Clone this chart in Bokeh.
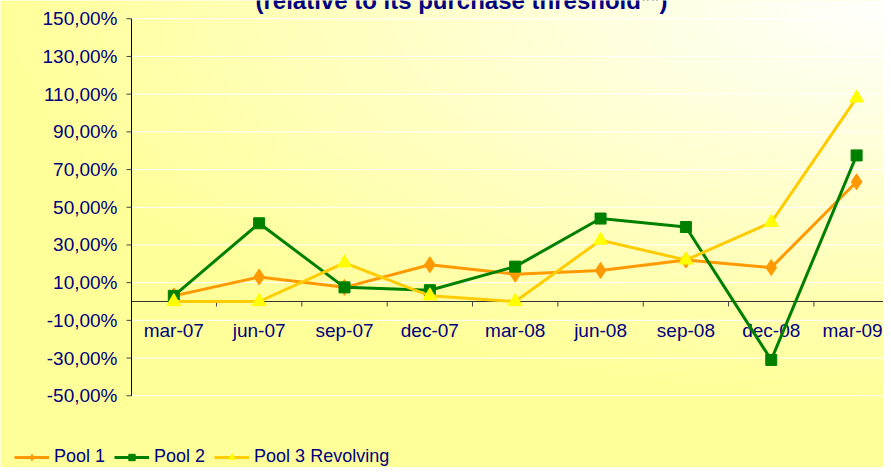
import numpy as np
from bokeh.plotting import figure
from bokeh.models import Legend, LegendItem, Label, Range1d
from bokeh.embed import file_html
from bokeh.resources import INLINE
from bokeh.core.properties import value

# ---------------- data ----------------
categories = ["mar-07", "jun-07", "sep-07", "dec-07", "mar-08",
              "jun-08", "sep-08", "dec-08", "mar-09"]
pool1 = [3.0, 13.0, 7.5, 19.5, 14.5, 16.5, 22.0, 18.0, 63.5]
pool2 = [3.0, 41.5, 7.5, 6.0, 18.5, 44.0, 39.5, -31.0, 77.5]
pool3 = [0.0, 0.0, 20.5, 3.0, 0.0, 32.5, 22.0, 42.0, 108.0]
series_names = ["Pool 1", "Pool 2", "Pool 3 Revolving"]
y_ticks = [-50, -30, -10, 10, 30, 50, 70, 90, 110, 130, 150]
y_tick_labels = ["-50,00%", "-30,00%", "-10,00%", "10,00%", "30,00%", "50,00%",
                 "70,00%", "90,00%", "110,00%", "130,00%", "150,00%"]
title_text = "(relative to its purchase threshold**)"

# ---------------- layout (pixels) ----------------
NAVY = "#000080"
FONT = "Liberation Sans"
W, H = 883, 467
CAT0_PX, CAT_STEP_PX = 173.3, 85.35     # x pixel of first category, spacing
ZERO_PX, PX_PER_UNIT = 301.0, 1.885     # y pixel of 0 %, pixels per 1 %
AXIS_PX = 131                            # x pixel of the value axis

X0 = (0 - CAT0_PX) / CAT_STEP_PX
X1 = (W - CAT0_PX) / CAT_STEP_PX
Y1 = ZERO_PX / PX_PER_UNIT
Y0 = (ZERO_PX - H) / PX_PER_UNIT
AXIS_X = (AXIS_PX - CAT0_PX) / CAT_STEP_PX
DX = 1.0 / CAT_STEP_PX   # data units per pixel (x)
DY = 1.0 / PX_PER_UNIT   # data units per pixel (y)

x = list(range(len(categories)))

p = figure(width=W, height=H, output_backend="svg", toolbar_location=None,
           x_range=Range1d(X0, X1), y_range=Range1d(Y0, Y1),
           x_axis_location=None, y_axis_location=None,
           min_border_left=0, min_border_right=0, min_border_top=0, min_border_bottom=0,
           border_fill_color="#FFFF99", background_fill_color="#FFFFCC",
           outline_line_color=None)
p.xgrid.visible = False
p.ygrid.visible = False

# gradient background (corner gradient, white top-right -> yellow)
iw, ih = W // 2, H // 2
cx = (np.arange(iw) + 0.5) / iw * W
cy = (np.arange(ih) + 0.5) / ih * H
dxn = (891 - cx)[None, :] / 900.0
dyn = cy[:, None] / 400.0
t = np.clip(1 - np.sqrt(dxn ** 2 + dyn ** 2), 0, 1)
blue = (153 + 102 * t).astype(np.uint8)
img = np.empty((ih, iw), dtype=np.uint32)
view = img.view(dtype=np.uint8).reshape((ih, iw, 4))
view[..., 0] = 255
view[..., 1] = 255
view[..., 2] = blue
view[..., 3] = 255
img = img[::-1]
p.image_rgba(image=[img], x=X0, y=Y0, dw=X1 - X0, dh=Y1 - Y0, level="image")

# grid lines
n_y = len(y_ticks)
p.segment(x0=[AXIS_X] * n_y, y0=y_ticks, x1=[X1] * n_y, y1=y_ticks,
          line_color="white", line_width=1)
# value axis: line, ticks, labels
p.segment(x0=[AXIS_X], y0=[y_ticks[0]], x1=[AXIS_X], y1=[y_ticks[-1]],
          line_color="black", line_width=1)
p.segment(x0=[AXIS_X - 5 * DX] * n_y, y0=y_ticks, x1=[AXIS_X] * n_y, y1=y_ticks,
          line_color="#404040", line_width=1)
p.text(x=[AXIS_X] * n_y, y=y_ticks, text=y_tick_labels, x_offset=-14,
       text_align="right", text_baseline="middle",
       text_font=value(FONT), text_font_size="19px", text_color=NAVY)

# category axis on the zero line
p.segment(x0=[AXIS_X], y0=[0], x1=[X1], y1=[0], line_color="#333333", line_width=1.2)
mids = [i + 0.5 for i in x[:-1]]
p.segment(x0=mids, y0=[0] * len(mids), x1=mids, y1=[-5 * DY] * len(mids),
          line_color="#404040", line_width=1)
# last label nudged left so that it is not cut at the right edge
label_dx = [0] * (len(x) - 1) + [-4]
p.text(x=x, y=[0] * len(x), text=categories, x_offset=label_dx, y_offset=29,
       text_align="center", text_baseline="middle",
       text_font=value(FONT), text_font_size="19px", text_color=NAVY)

# series
r1l = p.line(x, pool1, line_color="#FF9900", line_width=3)
r1m = p.scatter(x, pool1, marker="diamond", size=16, fill_color="#FF9900", line_color="#FF9900")
r2l = p.line(x, pool2, line_color="#008000", line_width=3)
r2m = p.scatter(x, pool2, marker="square", size=11, fill_color="#008000", line_color="#008000")
r3l = p.line(x, pool3, line_color="#FFCC00", line_width=3)
r3m = p.scatter(x, pool3, marker="triangle", size=14, fill_color="#FFFF00", line_color="#FFFF00")

legend = Legend(items=[LegendItem(label=series_names[0], renderers=[r1l, r1m]),
                       LegendItem(label=series_names[1], renderers=[r2l, r2m]),
                       LegendItem(label=series_names[2], renderers=[r3l, r3m])],
                orientation="horizontal", location=(14, 0),
                background_fill_alpha=0, border_line_color=None,
                padding=0, margin=0, spacing=9, glyph_width=35, glyph_height=16,
                label_standoff=5, label_height=16,
                label_text_font=FONT, label_text_font_size="18px",
                label_text_color=NAVY)
p.add_layout(legend)

# title (cut off at the top, as in the reference)
p.add_layout(Label(x=(461 - CAT0_PX) / CAT_STEP_PX, y=Y1 + 0.5 * DY, text=title_text,
                   text_align="center", text_baseline="middle",
                   text_font=FONT, text_font_style="bold", text_font_size="24px",
                   text_color=NAVY))

open("out.html", "w").write(file_html(p, INLINE))
